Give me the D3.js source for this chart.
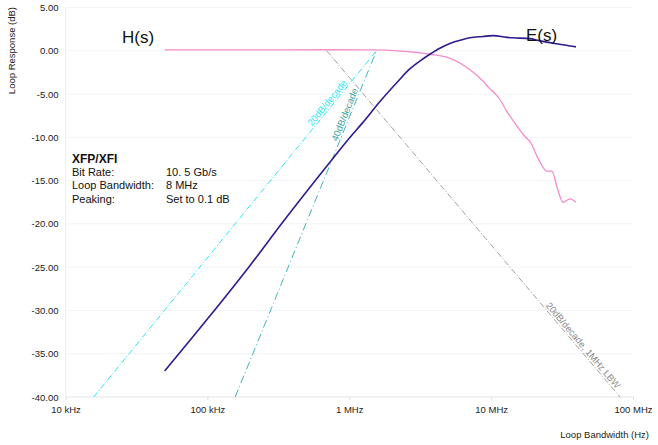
<!DOCTYPE html>
<html>
<head>
<meta charset="utf-8">
<script src="https://cdn.jsdelivr.net/npm/d3@7"></script>
<style>
  body { margin: 0; background: #fff; }
  svg { font-family: "Liberation Sans", Arial, sans-serif; }
  .tick text { font-size: 9.5px; fill: #222; }
</style>
</head>
<body>
<div id="chart"></div>
<script>
// Frequencies in Hz, responses in dB
var hFreq = [50e3, 200e3, 700e3, 1.5e6, 2.2e6, 3.0e6, 3.7e6, 5.1e6, 7.1e6, 8.75e6, 9.8e6, 10.3e6,
             11.5e6, 12.9e6, 14.2e6, 17.3e6, 18.8e6, 21.4e6, 24.7e6, 26.8e6, 29.1e6, 32.1e6, 36.0e6, 39.6e6];
var hDb   = [0.1, 0.1, 0.12, 0.1, 0.0, -0.2, -0.4, -0.85, -2.2, -3.5, -4.4, -4.7,
             -5.6, -7.0, -8.0, -9.9, -10.5, -12.4, -13.9, -13.9, -15.7, -17.5, -17.1, -17.5];

var eFreq = [50e3, 100e3, 200e3, 351e3, 728e3, 1.0e6, 1.245e6, 1.64e6, 2.16e6, 2.67e6, 3.2e6, 3.7e6,
             4.35e6, 5.12e6, 6.32e6, 7.09e6, 8.75e6, 10.3e6, 12.9e6, 14.2e6, 18.8e6, 21.4e6, 24.7e6,
             28.0e6, 32.1e6, 36.0e6, 39.6e6];
var eDb   = [-37.0, -31.0, -24.8, -19.5, -12.9, -10.1, -8.3, -5.9, -3.7, -2.1, -1.1, -0.4,
             0.3, 0.85, 1.3, 1.5, 1.65, 1.75, 1.55, 1.5, 1.4, 1.2, 1.0,
             0.85, 0.7, 0.55, 0.45];

// Asymptote reference lines [start, end]
var ref20Freq = [15.8e3, 1.556e6];
var ref20Db = [-40, 0];
var ref40Freq = [157e3, 1.556e6];
var ref40Db = [-40, 0];
var refLbwFreq = [694e3, 81e6];
var refLbwDb = [0, -40];

var xTicks = [1e4, 1e5, 1e6, 1e7, 1e8];
var xTickLabels = ['10 kHz', '100 kHz', '1 MHz', '10 MHz', '100 MHz'];
var yTicks = [5, 0, -5, -10, -15, -20, -25, -30, -35, -40];

var infoLabels = ['Bit Rate:', 'Loop Bandwidth:', 'Peaking:'];
var infoValues = ['10. 5 Gb/s', '8 MHz', 'Set to 0.1 dB'];

// Chart Setup
var width = 658, height = 445;
var xScale = d3.scaleLog()
  .domain([1e4, 1e8])
  .range([65.5, 633]);
var yScale = d3.scaleLinear()
  .domain([-40, 5])
  .range([397, 7.5]);

var svg = d3.select('#chart')
  .append('svg')
  .attr('width', width)
  .attr('height', height);

// Grid
svg.append('g')
  .selectAll('line')
  .data(yTicks)
  .enter()
  .append('line')
  .attr('x1', xScale(1e4))
  .attr('x2', xScale(1e8))
  .attr('y1', function(d) { return yScale(d); })
  .attr('y2', function(d) { return yScale(d); })
  .attr('stroke', function(d) { return d === -40 ? '#e4e4e4' : '#f3f3f3'; })
  .attr('stroke-width', 1);
svg.append('line')
  .attr('x1', xScale(1e4)).attr('x2', xScale(1e4))
  .attr('y1', yScale(5)).attr('y2', yScale(-40))
  .attr('stroke', '#eeeeee');

// Axes
var xAxis = d3.axisBottom(xScale)
  .tickValues(xTicks)
  .tickFormat(function(d, i) { return xTickLabels[i]; })
  .tickSize(3)
  .tickPadding(6);
svg.append('g')
  .attr('transform', 'translate(0,' + yScale(-40) + ')')
  .call(xAxis)
  .call(function(g) {
    g.select('.domain').remove();
    g.selectAll('.tick line').attr('stroke', '#e0e0e0');
  });

var yAxis = d3.axisLeft(yScale)
  .tickValues(yTicks)
  .tickFormat(d3.format('.2f'))
  .tickSize(0)
  .tickPadding(7);
svg.append('g')
  .attr('transform', 'translate(' + xScale(1e4) + ',0)')
  .call(yAxis)
  .call(function(g) { g.select('.domain').remove(); });
svg.selectAll('.tick text').text(function() {
  return this.textContent.replace('\u2212', '-');
});

svg.append('text')
  .attr('transform', 'translate(15,7) rotate(-90)')
  .attr('text-anchor', 'end')
  .style('font-size', '9.5px')
  .attr('fill', '#222')
  .text('Loop Response (dB)');
svg.append('text')
  .attr('x', 649)
  .attr('y', 438)
  .attr('text-anchor', 'end')
  .style('font-size', '9.5px')
  .attr('fill', '#222')
  .text('Loop Bandwidth (Hz)');

// Lines
var line = d3.line()
  .x(function(d) { return xScale(d[0]); })
  .y(function(d) { return yScale(d[1]); });

function pairs(f, v) {
  return f.map(function(d, i) { return [d, v[i]]; });
}

svg.append('path')
  .attr('d', line(pairs(ref20Freq, ref20Db)))
  .attr('fill', 'none')
  .attr('stroke', '#2ee6f2')
  .attr('stroke-width', 1)
  .attr('stroke-dasharray', '6,2,1,2');
svg.append('path')
  .attr('d', line(pairs(ref40Freq, ref40Db)))
  .attr('fill', 'none')
  .attr('stroke', '#45b3b3')
  .attr('stroke-width', 1)
  .attr('stroke-dasharray', '8,3,1,3');
svg.append('path')
  .attr('d', line(pairs(refLbwFreq, refLbwDb)))
  .attr('fill', 'none')
  .attr('stroke', '#a0a0a0')
  .attr('stroke-width', 1)
  .attr('stroke-dasharray', '6,2,1,2');

var smooth = d3.line()
  .curve(d3.curveMonotoneX)
  .x(function(d) { return xScale(d[0]); })
  .y(function(d) { return yScale(d[1]); });

svg.append('path')
  .attr('d', smooth(pairs(hFreq, hDb)))
  .attr('fill', 'none')
  .attr('stroke', '#f58ccb')
  .attr('stroke-width', 1.3);
svg.append('path')
  .attr('d', smooth(pairs(eFreq, eDb)))
  .attr('fill', 'none')
  .attr('stroke', '#2c1d8e')
  .attr('stroke-width', 1.6);

// Line labels
function slopeAngle(f, v) {
  var dx = xScale(f[1]) - xScale(f[0]);
  var dy = yScale(v[1]) - yScale(v[0]);
  return Math.atan2(dy, dx) * 180 / Math.PI;
}
function pointAt(f, v, db) {
  var t = (db - v[0]) / (v[1] - v[0]);
  var lf = Math.log10(f[0]) + t * (Math.log10(f[1]) - Math.log10(f[0]));
  return [xScale(Math.pow(10, lf)), yScale(db)];
}
function lineLabel(f, v, db, txt, color, dy) {
  var p = pointAt(f, v, db);
  svg.append('text')
    .attr('transform', 'translate(' + p[0] + ',' + p[1] + ') rotate(' + slopeAngle(f, v) + ')')
    .attr('dy', dy)
    .style('font-size', '9.5px')
    .attr('fill', color)
    .text(txt);
}
lineLabel(ref20Freq, ref20Db, -8.9, '20dB/decade', '#2ee6f2', -2);
lineLabel(ref40Freq, ref40Db, -10.6, '40dB/decade', '#3aa5a5', -2);
lineLabel(refLbwFreq, refLbwDb, -29.6, '20dB/decade, 1MHz LBW', '#8a8a8a', -2);

svg.append('text')
  .attr('x', 122)
  .attr('y', 43)
  .style('font-size', '17px')
  .attr('fill', '#111')
  .text('H(s)');
svg.append('text')
  .attr('x', 526)
  .attr('y', 41)
  .style('font-size', '17px')
  .attr('fill', '#111')
  .text('E(s)');

// Info block
svg.append('text')
  .attr('x', 72)
  .attr('y', 163)
  .style('font-size', '12px')
  .style('font-weight', 'bold')
  .attr('fill', '#111')
  .text('XFP/XFI');
svg.selectAll('.info-label')
  .data(infoLabels)
  .enter()
  .append('text')
  .attr('class', 'info-label')
  .attr('x', 72)
  .attr('y', function(d, i) { return 176 + i * 13.3; })
  .style('font-size', '11px')
  .attr('fill', '#111')
  .text(function(d) { return d; });
svg.selectAll('.info-value')
  .data(infoValues)
  .enter()
  .append('text')
  .attr('class', 'info-value')
  .attr('x', 166)
  .attr('y', function(d, i) { return 176 + i * 13.3; })
  .style('font-size', '11px')
  .attr('fill', '#111')
  .text(function(d) { return d; });
</script>
</body>
</html>
